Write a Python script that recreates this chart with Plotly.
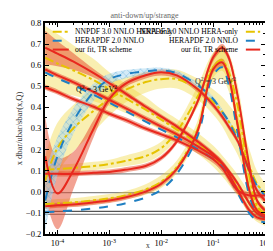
import plotly.graph_objects as go
import numpy as np

# ---------------- data ----------------
x = [5.8e-5, 1e-4, 2e-4, 5e-4, 1e-3, 2e-3, 5e-3, 1e-2, 2e-2, 5e-2,
     0.1, 0.15, 0.2, 0.3, 0.5, 0.7, 1.0]

# our fit, TR scheme (red)
tr_1 = [0.683, 0.655, 0.618, 0.562, 0.515, 0.468, 0.403, 0.356, 0.309, 0.239, 0.179, 0.136, 0.099, 0.038, -0.055, -0.102, -0.121]
tr_2 = [0.580, 0.552, 0.520, 0.473, 0.436, 0.398, 0.347, 0.309, 0.272, 0.216, 0.169, 0.132, 0.085, 0.006, -0.088, -0.121, -0.130]
tr_3 = [0.496, 0.473, 0.440, 0.403, 0.370, 0.342, 0.300, 0.272, 0.244, 0.197, 0.155, 0.113, 0.066, 0.006, -0.018, -0.018, -0.018]
tr_4 = [0.169, -0.008, 0.099, 0.300, 0.440, 0.510, 0.552, 0.566, 0.552, 0.487, 0.412, 0.356, 0.309, 0.239, 0.099, 0.006, -0.041]
tr_5 = [0.085, 0.085, 0.085, 0.090, 0.094, 0.104, 0.122, 0.160, 0.239, 0.426, 0.636, 0.683, 0.636, 0.450, 0.122, -0.041, -0.088]
tr_6 = [-0.069, -0.064, -0.060, -0.050, -0.041, -0.027, 0.001, 0.038, 0.108, 0.286, 0.580, 0.613, 0.543, 0.309, 0.006, -0.088, -0.111]
tr_err_1 = [0.08, 0.06, 0.04, 0.02, 0.015, 0.012, 0.012, 0.012, 0.012, 0.012, 0.012, 0.012, 0.012, 0.012, 0.012, 0.012, 0.012]
tr_err_4 = [0.19, 0.17, 0.09, 0.04, 0.02, 0.015, 0.015, 0.015, 0.015, 0.015, 0.015, 0.015, 0.015, 0.015, 0.015, 0.015, 0.015]
tr_err_s = [0.012, 0.012, 0.012, 0.012, 0.012, 0.012, 0.012, 0.012, 0.012, 0.015, 0.018, 0.018, 0.018, 0.018, 0.015, 0.012, 0.012]

# HERAPDF 2.0 NNLO (blue)
hera_1 = [-0.041, 0.169, 0.333, 0.473, 0.534, 0.557, 0.571, 0.576, 0.562, 0.506, 0.440, 0.379, 0.333, 0.239, 0.099, 0.029, -0.018]
hera_2 = [0.566, 0.538, 0.506, 0.459, 0.422, 0.384, 0.333, 0.295, 0.258, 0.202, 0.155, 0.118, 0.071, -0.008, -0.102, -0.135, -0.144]
hera_3 = [-0.097, -0.093, -0.088, -0.079, -0.069, -0.055, -0.027, 0.010, 0.085, 0.263, 0.552, 0.590, 0.506, 0.272, -0.018, -0.102, -0.121]
hera_err_1 = [0.14, 0.09, 0.06, 0.04, 0.025, 0.02, 0.015, 0.012, 0.012, 0.012, 0.012, 0.012, 0.012, 0.012, 0.012, 0.012, 0.012]

# NNPDF 3.0 NNLO HERA-only (yellow)
nnpdf_1 = [0.052, 0.207, 0.300, 0.384, 0.440, 0.482, 0.520, 0.534, 0.534, 0.487, 0.426, 0.379, 0.333, 0.263, 0.122, 0.038, -0.008]
nnpdf_2 = [0.104, 0.108, 0.113, 0.122, 0.132, 0.146, 0.169, 0.207, 0.286, 0.450, 0.590, 0.613, 0.566, 0.403, 0.076, -0.064, -0.111]
nnpdf_3 = [0.636, 0.608, 0.576, 0.529, 0.487, 0.445, 0.389, 0.342, 0.295, 0.230, 0.169, 0.122, 0.085, 0.029, -0.055, -0.102, -0.121]
nnpdf_4 = [-0.059, -0.054, -0.050, -0.040, -0.031, -0.017, 0.011, 0.048, 0.118, 0.296, 0.590, 0.623, 0.553, 0.319, 0.016, -0.078, -0.101]
nnpdf_err_1 = [0.12, 0.12, 0.11, 0.10, 0.08, 0.06, 0.05, 0.045, 0.045, 0.05, 0.06, 0.07, 0.08, 0.09, 0.08, 0.06, 0.05]
nnpdf_err_2 = [0.02, 0.02, 0.02, 0.02, 0.02, 0.025, 0.03, 0.03, 0.035, 0.05, 0.07, 0.08, 0.09, 0.10, 0.08, 0.05, 0.04]
nnpdf_err_3 = [0.15, 0.14, 0.12, 0.10, 0.08, 0.07, 0.06, 0.05, 0.05, 0.05, 0.05, 0.05, 0.05, 0.05, 0.05, 0.04, 0.04]
nnpdf_err_4 = [0.02, 0.02, 0.02, 0.02, 0.02, 0.02, 0.025, 0.03, 0.03, 0.04, 0.05, 0.05, 0.05, 0.05, 0.04, 0.03, 0.03]

zero_lines = [0.085, -0.004, -0.093, -0.107]
x_tickvals = [1e-4, 1e-3, 1e-2, 1e-1, 1]
x_ticktext = ["10<sup>-4</sup>", "10<sup>-3</sup>", "10<sup>-2</sup>", "10<sup>-1</sup>", "10<sup>0</sup>"]
legend_labels = ["NNPDF 3.0 NNLO HERA-only", "HERAPDF 2.0 NNLO", "our fit, TR scheme"]

# ---------------- styles ----------------
RED = "#e8281e"
RED_BAND = "rgba(230,70,40,0.50)"
BLUE = "#1f7fc2"
BLUE_BAND = "rgba(140,200,235,0.55)"
YEL = "#e6c300"
YEL_BAND = "rgba(238,214,50,0.38)"
SERIF = "Liberation Serif"

fig = go.Figure()


def band(y, err, fill, pattern=None):
    y = np.array(y)
    e = np.array(err)
    fig.add_trace(go.Scatter(x=x, y=y + e, mode="lines", line=dict(width=0, shape="spline"),
                             showlegend=False, hoverinfo="skip"))
    kw = dict(fillpattern=pattern) if pattern else {}
    fig.add_trace(go.Scatter(x=x, y=y - e, mode="lines", line=dict(width=0, shape="spline"),
                             fill="tonexty", fillcolor=fill, showlegend=False,
                             hoverinfo="skip", **kw))


def line(y, color, dash, width=2):
    fig.add_trace(go.Scatter(x=x, y=y, mode="lines",
                             line=dict(color=color, dash=dash, width=width, shape="spline"),
                             showlegend=False))


# yellow bands
for yv, ev in [(nnpdf_3, nnpdf_err_3), (nnpdf_1, nnpdf_err_1), (nnpdf_2, nnpdf_err_2), (nnpdf_4, nnpdf_err_4)]:
    band(yv, ev, YEL_BAND)
# red bands
band(tr_4, tr_err_4, RED_BAND)
band(tr_1, tr_err_1, RED_BAND)
for yv in [tr_2, tr_3, tr_5, tr_6]:
    band(yv, tr_err_s, RED_BAND)
# blue hatched band
band(hera_1, hera_err_1, BLUE_BAND,
     pattern=dict(shape="x", fgcolor="#4a9fd6", bgcolor="rgba(170,215,240,0.5)", size=5, solidity=0.25))

# lines
for yv in [nnpdf_1, nnpdf_2, nnpdf_3, nnpdf_4]:
    line(yv, YEL, "dashdot")
for yv in [hera_1, hera_2, hera_3]:
    line(yv, BLUE, "dash")
for yv in [tr_1, tr_2, tr_3, tr_4, tr_5, tr_6]:
    line(yv, RED, "solid")

shapes = []
for i, zy in enumerate(zero_lines):
    shapes.append(dict(type="line", xref="paper", yref="y", x0=0, x1=1, y0=zy, y1=zy,
                       line=dict(color="#555" if i == 2 else "#888", width=1.2), layer="below"))

annotations = []
row_y = [0.958, 0.916, 0.874]
styles = [(YEL, "dashdot"), (BLUE, "dash"), (RED, "solid")]
for lab, ry, (c, d) in zip(legend_labels, row_y, styles):
    # left legend
    shapes.append(dict(type="line", xref="paper", yref="paper", x0=0.035, x1=0.108, y0=ry, y1=ry,
                       line=dict(color=c, dash=d, width=2)))
    annotations.append(dict(text=lab, xref="paper", yref="paper", x=0.126, y=ry,
                            xanchor="left", yanchor="middle", showarrow=False,
                            font=dict(family=SERIF, size=7.6, color="black")))
    # right legend
    shapes.append(dict(type="line", xref="paper", yref="paper", x0=0.913, x1=0.978, y0=ry, y1=ry,
                       line=dict(color=c, dash=d, width=2)))
    annotations.append(dict(text=lab, xref="paper", yref="paper", x=0.887, y=ry,
                            xanchor="right", yanchor="middle", showarrow=False,
                            font=dict(family=SERIF, size=7.6, color="black")))

annotations.append(dict(text="Q<sup>2</sup> = 3 GeV<sup>2</sup>", xref="paper", yref="paper",
                        x=0.134, y=0.72, showarrow=False,
                        font=dict(family=SERIF, size=8, color="black")))
annotations.append(dict(text="Q<sup>2</sup> = 3 GeV<sup>2</sup>", xref="paper", yref="paper",
                        x=0.879, y=0.757, showarrow=False,
                        font=dict(family=SERIF, size=8, color="#333")))
# x-axis title
annotations.append(dict(text="x", xref="paper", yref="paper", x=0.47, y=-0.055,
                        xanchor="center", yanchor="middle", showarrow=False,
                        font=dict(family=SERIF, size=7.5, color="#333")))

fig.update_layout(
    width=273, height=251,
    margin=dict(l=32, r=10, t=14, b=25),
    paper_bgcolor="white", plot_bgcolor="white",
    showlegend=False,
    title=dict(text="anti-down/up/strange", x=0.5, xanchor="center", y=0.972, yanchor="middle",
               yref="container", font=dict(family=SERIF, size=8, color="#666")),
    shapes=shapes, annotations=annotations,
    xaxis=dict(type="log", range=[-4.24, 0], tickvals=x_tickvals, ticktext=x_ticktext,
               ticks="inside", ticklen=4, tickcolor="black", showline=True, linecolor="black",
               linewidth=2, mirror="ticks", showgrid=False, zeroline=False,
               minor=dict(ticks="inside", ticklen=2, dtick="D1", tickcolor="black", showgrid=False),
               tickfont=dict(family=SERIF, size=8.5, color="black")),
    yaxis=dict(range=[-0.2, 0.8], dtick=0.1, tickformat=".1f",
               ticks="inside", ticklen=4, tickcolor="black", showline=True, linecolor="black",
               linewidth=2, mirror="ticks", showgrid=False, zeroline=False,
               minor=dict(ticks="inside", ticklen=2, dtick=0.05, tickcolor="black"),
               tickfont=dict(family=SERIF, size=8.5, color="black"),
               title=dict(text="x dbar/ubar/sbar(x,Q)", standoff=2,
                          font=dict(family=SERIF, size=8.5, color="#333"))),
)

fig.write_html("out.html")
